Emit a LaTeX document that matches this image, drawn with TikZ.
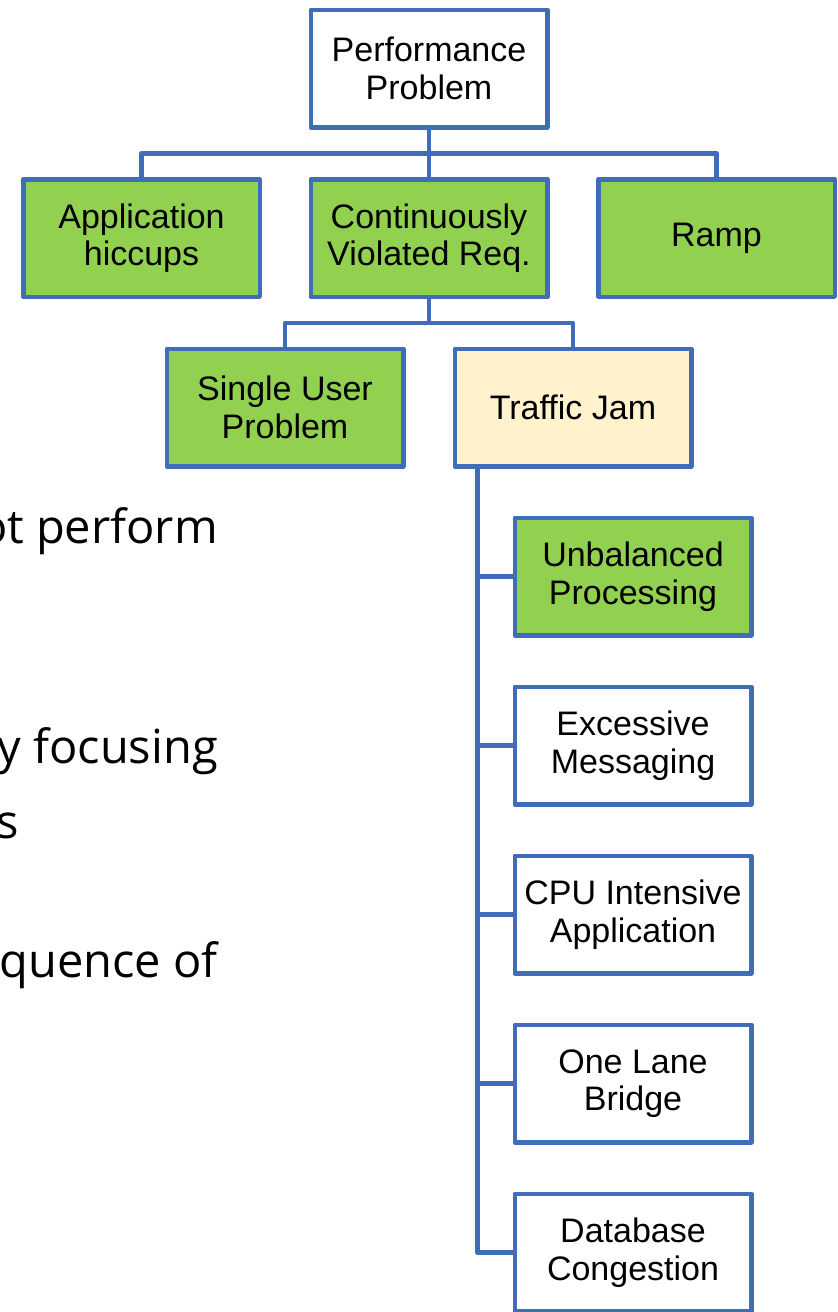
\documentclass[tikz,border=0pt]{standalone}
\usepackage{fontspec}
\usetikzlibrary{calc}
\setmainfont{Liberation Sans}
\newfontfamily\bodyfont{Open Sans}
\definecolor{linkblue}{RGB}{65,108,186}
\definecolor{leafgreen}{RGB}{146,208,80}
\definecolor{paleyellow}{RGB}{255,242,204}
\begin{document}
\begin{tikzpicture}[x=1pt,y=-1pt,
  box/.style={draw=linkblue,line width=4.5pt,line join=round,fill=white,
    minimum width=236.5pt,minimum height=117.5pt,inner sep=0pt,
    align=center,font=\fontsize{34}{37.5}\selectfont},
  hit/.style={box,fill=leafgreen},
  jam/.style={box,fill=paleyellow},
  link/.style={draw=linkblue,line width=4.5pt,line join=round},
  body/.style={anchor=base east,inner sep=0pt,font=\bodyfont\fontsize{47}{56}\selectfont}]
\useasboundingbox (0,0) rectangle (838,1312);

% slide text running under the tree
\node[body] (t1) at (218,543) {ot perform};
\node[body] (t2) at (218,763) {y focusing};
\node[body] (t3) at (19,838) {s};
\node[body] (t4) at (218,977) {quence of};

% boxes
\node[box] (perf)   at (429,68.5)   {Performance\\Problem};
\node[hit] (app)    at (141.5,238)  {Application\\hiccups};
\node[hit] (cont)   at (429,238)    {Continuously\\Violated Req.};
\node[hit] (ramp)   at (716.5,238)  {Ramp};
\node[hit] (single) at (285,407.5)  {Single User\\Problem};
\node[jam] (jam)    at (573,407.5)  {Traffic Jam};
\node[hit] (unbal)  at (633,576.5)  {Unbalanced\\Processing};
\node[box] (msg)    at (633,745.5)  {Excessive\\Messaging};
\node[box] (cpu)    at (633,914.5)  {CPU Intensive\\Application};
\node[box] (lane)   at (633,1083.5) {One Lane\\Bridge};
\node[box] (db)     at (633,1252.5) {Database\\Congestion};

% first level
\coordinate (bus1) at ($(perf.south)!0.5!(cont.north)$);
\draw[link] (perf.south) -- (cont.north);
\draw[link] (app.north) |- (bus1) -| (ramp.north);

% second level
\coordinate (bus2) at ($(cont.south)!0.5!(cont.south |- single.north)$);
\draw[link] (cont.south) -- (bus2);
\draw[link] (single.north) |- (bus2) -| (jam.north);

% traffic jam causes
\coordinate (spine) at ([xshift=25pt]jam.south west);
\draw[link] (spine) |- (db.west);
\foreach \n in {unbal,msg,cpu,lane}
  \draw[link] (\n.west) -- (\n.west -| spine);
\end{tikzpicture}
\end{document}
